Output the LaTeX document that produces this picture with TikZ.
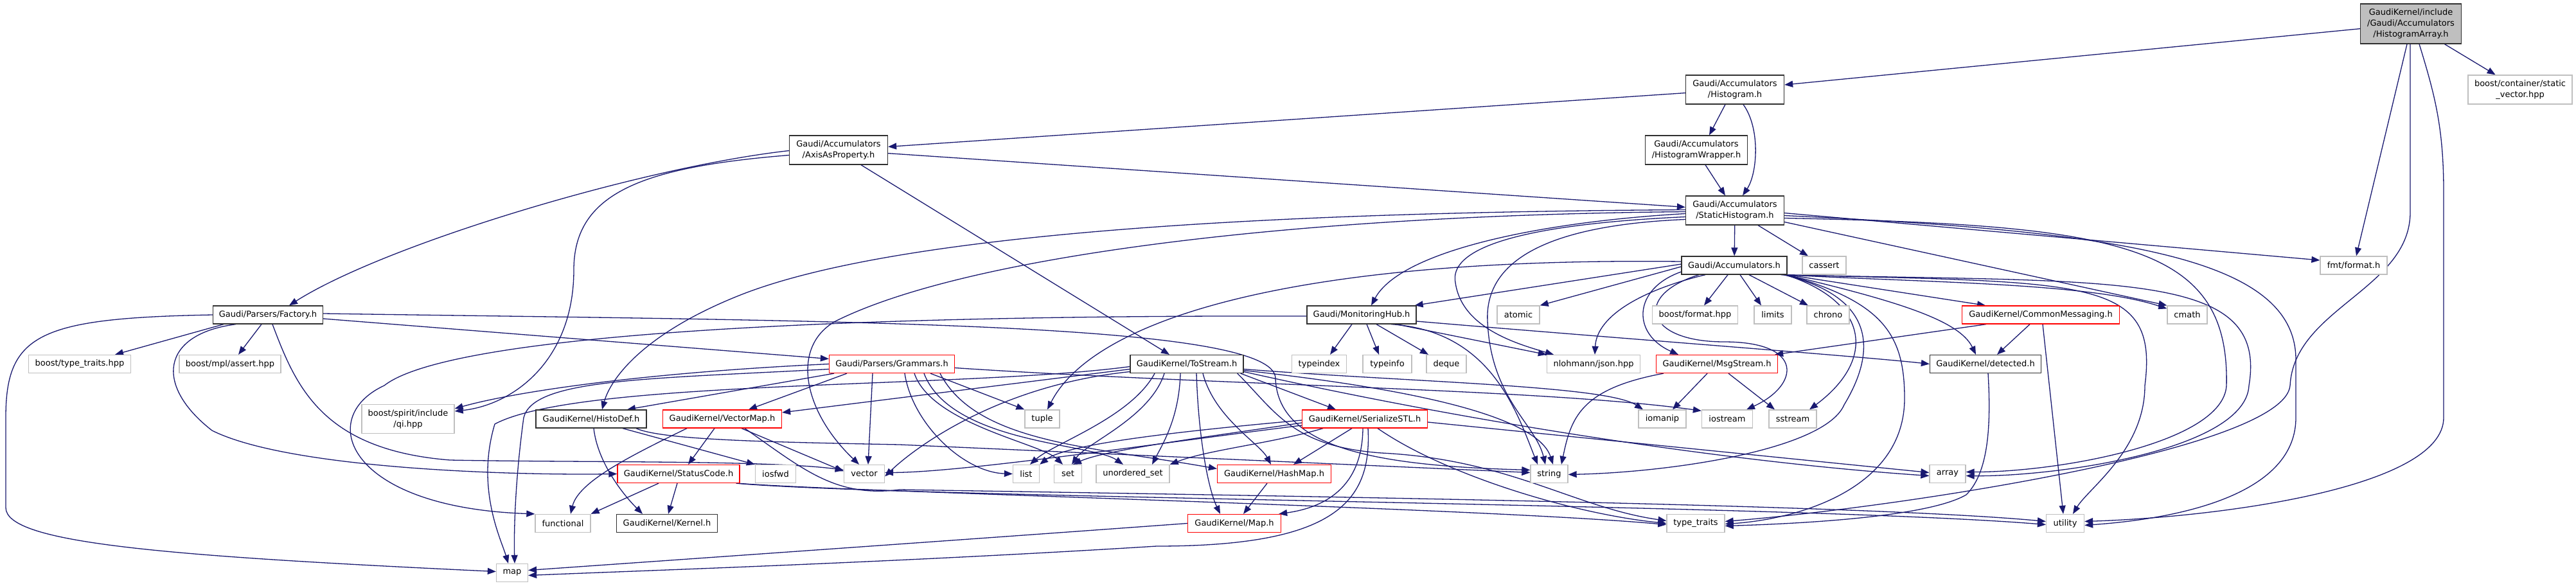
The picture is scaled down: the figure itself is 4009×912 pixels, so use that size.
\documentclass[tikz,border=0pt]{standalone}
\usepackage{fontspec}
\setmainfont{DejaVu Sans}
\usetikzlibrary{arrows.meta}
\pgfdeclarelayer{bg}
\pgfdeclarelayer{back}
\pgfsetlayers{back,bg,main}
\definecolor{edgec}{HTML}{191970}
\definecolor{nodeb}{HTML}{303030}
\definecolor{sysb}{HTML}{BFBFBF}
\definecolor{mainf}{HTML}{BFBFBF}
\definecolor{redb}{HTML}{FF0000}
\begin{document}
\begin{tikzpicture}[x=1pt,y=-1pt,
  font=\fontsize{13}{17}\selectfont,
  nb/.style={draw=nodeb, fill=white, line width=1.3pt, rectangle, inner sep=0pt, minimum height=28pt, align=center},
  ns/.style={nb, draw=sysb},
  nr/.style={nb, draw=redb},
  e/.style={draw=edgec, line width=1.3pt, -{Triangle[length=13pt,width=10pt]}}]
\begin{pgfonlayer}{back}
\fill[white] (0,0) rectangle (4009,912);
\end{pgfonlayer}
\useasboundingbox (0,0) rectangle (4009,912);

% nodes
\node[nb, fill=mainf, minimum width=157pt, minimum height=62pt] (HA) at (3752,37) {GaudiKernel/include\\/Gaudi/Accumulators\\/HistogramArray.h};
\node[nb, minimum width=153pt, minimum height=45pt] (H) at (2700,139.5) {Gaudi/Accumulators\\/Histogram.h};
\node[ns, minimum width=162pt, minimum height=45pt] (SV) at (3922,139.5) {boost/container/static\\\_vector.hpp};
\node[nb, minimum width=153pt, minimum height=45pt] (AP) at (1305,233.5) {Gaudi/Accumulators\\/AxisAsProperty.h};
\node[nb, minimum width=159pt, minimum height=45pt] (HW) at (2640,233.5) {Gaudi/Accumulators\\/HistogramWrapper.h};
\node[nb, minimum width=153pt, minimum height=45pt] (SH) at (2700,327.5) {Gaudi/Accumulators\\/StaticHistogram.h};
\node[nb, minimum width=164pt] (ACC) at (2699,413) {Gaudi/Accumulators.h};
\node[ns, minimum width=68pt] (cassert) at (2839,413) {cassert};
\node[ns, minimum width=104pt] (fmt) at (3663,413) {fmt/format.h};
\node[nb, minimum width=171pt] (Factory) at (417,490) {Gaudi/Parsers/Factory.h};
\node[nb, minimum width=170pt] (MH) at (2119,490) {Gaudi/MonitoringHub.h};
\node[ns, minimum width=66pt] (atomic) at (2363,490) {atomic};
\node[ns, minimum width=133pt] (bformat) at (2638,490) {boost/format.hpp};
\node[ns, minimum width=58pt] (limits) at (2759,490) {limits};
\node[ns, minimum width=66pt] (chrono) at (2845,490) {chrono};
\node[nr, minimum width=245pt] (CM) at (3176,490) {GaudiKernel/CommonMessaging.h};
\node[ns, minimum width=62pt] (cmath) at (3404,490) {cmath};
\node[ns, minimum width=159pt] (btt) at (124,566.5) {boost/type\_traits.hpp};
\node[ns, minimum width=158pt] (bmpl) at (358,566.5) {boost/mpl/assert.hpp};
\node[nr, minimum width=195pt] (Gram) at (1388,566.5) {Gaudi/Parsers/Grammars.h};
\node[nb, minimum width=176pt] (TS) at (1847,566.5) {GaudiKernel/ToStream.h};
\node[ns, minimum width=85pt] (typeindex) at (2053,566.5) {typeindex};
\node[ns, minimum width=76pt] (typeinfo) at (2159,566.5) {typeinfo};
\node[ns, minimum width=62pt] (deque) at (2251,566.5) {deque};
\node[ns, minimum width=145pt] (json) at (2480,566.5) {nlohmann/json.hpp};
\node[nr, minimum width=189pt] (MS) at (2672,566.5) {GaudiKernel/MsgStream.h};
\node[nb, minimum width=173pt] (det) at (3090,566.5) {GaudiKernel/detected.h};
\node[ns, minimum width=144pt, minimum height=45pt] (qi) at (635,652) {boost/spirit/include\\/qi.hpp};
\node[nb, minimum width=172pt] (HD) at (920,652) {GaudiKernel/HistoDef.h};
\node[nr, minimum width=185pt] (VM) at (1124,652) {GaudiKernel/VectorMap.h};
\node[ns, minimum width=54pt] (tuple) at (1622,652) {tuple};
\node[nr, minimum width=195pt] (SS) at (2124,652) {GaudiKernel/SerializeSTL.h};
\node[ns, minimum width=74pt] (iomanip) at (2587,652) {iomanip};
\node[ns, minimum width=79pt] (iostream) at (2688,652) {iostream};
\node[ns, minimum width=74pt] (sstream) at (2790,652) {sstream};
\node[nr, minimum width=190pt] (SC) at (1056,737.5) {GaudiKernel/StatusCode.h};
\node[ns, minimum width=63pt] (iosfwd) at (1207,737.5) {iosfwd};
\node[ns, minimum width=63pt] (vector) at (1345,737.5) {vector};
\node[ns, minimum width=41pt] (list) at (1597,737.5) {list};
\node[ns, minimum width=43pt] (set) at (1662,737.5) {set};
\node[ns, minimum width=114pt] (uset) at (1763,737.5) {unordered\_set};
\node[nr, minimum width=177pt] (HM) at (1983,737.5) {GaudiKernel/HashMap.h};
\node[ns, minimum width=58pt] (string) at (2411,737.5) {string};
\node[ns, minimum width=56pt] (array) at (3031,737.5) {array};
\node[ns, minimum width=86pt] (func) at (876,814.5) {functional};
\node[nb, minimum width=157pt] (Kern) at (1038,814.5) {GaudiKernel/Kernel.h};
\node[nr, minimum width=145pt] (MapH) at (1921,814.5) {GaudiKernel/Map.h};
\node[ns, minimum width=90pt] (tt) at (2639,814.5) {type\_traits};
\node[ns, minimum width=59pt] (util) at (3214,814.5) {utility};
\node[ns, minimum width=49pt] (map) at (797,891.5) {map};

\begin{pgfonlayer}{bg}
% HistogramArray
\draw[e] (HA) -- (H);
\draw[e] (HA) -- (SV);
\draw[e] ([xshift=-6pt]HA.south) -- ([xshift=4pt]fmt.north);
\draw[e] ([xshift=-1pt]HA.south) -- (3751,330) .. controls (3751,450) and (3570,480) .. (3564,600) .. controls (3555,700) and (2950,790) .. ([yshift=3pt]tt.east);
\draw[e] ([xshift=13pt]HA.south) .. controls (3790,150) and (3803,200) .. (3803,300) -- (3803,650) .. controls (3803,760) and (3450,805) .. ([yshift=3pt]util.east);
% Histogram
\draw[e] (H) -- (AP);
\draw[e] ([xshift=-15pt]H.south) -- ([xshift=20pt]HW.north);
\draw[e] ([xshift=13pt]H.south) .. controls (2740,200) and (2735,270) .. ([xshift=12pt]SH.north);
\draw[e] ([xshift=14pt]HW.south) -- ([xshift=-15pt]SH.north);
% AxisAsProperty
\draw[e] (AP) -- (SH);
\draw[e] ([yshift=-1pt]AP.west) .. controls (1000,260) and (600,380) .. ([xshift=33pt]Factory.north);
\draw[e] ([yshift=-8pt]AP.west) .. controls (1000,260) and (893,300) .. (893,420) .. controls (893,560) and (800,630) .. ([yshift=12pt]qi.east);
\draw[e] ([xshift=35pt]AP.south) -- ([xshift=-27pt]TS.north);
% StaticHistogram
\draw[e] (SH) -- (ACC);
\draw[e] ([xshift=36pt]SH.south) -- ([xshift=-25pt]cassert.north);
\draw[e] ([yshift=-4pt]SH.east) -- ([yshift=8pt]fmt.west);
\draw[e] ([yshift=-18pt]SH.east) -- (cmath.north west);
\draw[e] ([yshift=-5pt]SH.west) .. controls (2400,345) and (2180,390) .. ([xshift=15pt]MH.north);
\draw[e] ([yshift=1pt]SH.west) .. controls (2000,330) and (1400,360) .. (1150,460) .. controls (1000,520) and (950,590) .. ([xshift=17pt]HD.north);
\draw[e] ([yshift=-2pt]SH.west) .. controls (2000,335) and (1500,400) .. (1300,500) .. controls (1230,540) and (1250,640) .. ([xshift=-8pt]vector.north);
\draw[e] ([yshift=-10pt]SH.west) .. controls (2350,350) and (2255,390) .. (2265,440) .. controls (2275,510) and (2360,535) .. ([xshift=-62pt]json.north);
\draw[e] ([yshift=-14pt]SH.west) .. controls (2420,350) and (2310,400) .. (2315,500) .. controls (2320,620) and (2390,660) .. ([xshift=-6pt]string.north);
\draw[e] ([yshift=-12pt]SH.east) .. controls (3300,350) and (3470,380) .. (3465,600) .. controls (3460,690) and (3200,735) .. ([yshift=3pt]array.east);
\draw[e] ([yshift=-8pt]SH.east) .. controls (3300,360) and (3573,400) .. (3573,560) -- (3573,650) .. controls (3573,760) and (3420,805) .. ([yshift=-3pt]util.east);
% Accumulators
\draw[e] ([yshift=2pt]ACC.west) -- ([xshift=-3pt]MH.north east);
\draw[e] ([yshift=-2pt]ACC.west) -- (atomic.north east);
\draw[e] ([xshift=-10pt]ACC.south) -- ([xshift=14pt]bformat.north);
\draw[e] ([xshift=9pt]ACC.south) -- ([xshift=-18pt]limits.north);
\draw[e] ([xshift=23pt]ACC.south) -- ([xshift=-31pt]chrono.north);
\draw[e] (ACC.south east) -- ([xshift=-86pt]CM.north);
\draw[e] ([xshift=-4pt]ACC.south east) .. controls (3000,440) and (3250,440) .. ([yshift=-5pt]cmath.north west);
\draw[e] ([xshift=-2pt]ACC.south east) .. controls (2960,470) and (3050,500) .. ([xshift=-15pt]det.north);
\draw[e] ([yshift=-10pt]ACC.west) .. controls (2540,450) and (2540,520) .. ([xshift=-60pt]MS.north);
\draw[e] ([xshift=-45pt]ACC.south) .. controls (2560,450) and (2485,490) .. ([xshift=2pt]json.north);
\draw[e] ([yshift=6pt]ACC.west) .. controls (2000,400) and (1700,500) .. ([xshift=8pt]tuple.north);
\draw[e] ([xshift=-55pt]ACC.south) .. controls (2540,460) and (2560,532) .. (2683,532) .. controls (2810,532) and (2800,600) .. ([xshift=30pt]iostream.north);
\draw[e] ([xshift=-3pt]ACC.south east) .. controls (2910,470) and (2920,560) .. ([xshift=26pt]sstream.north);
\draw[e] ([xshift=-6pt]ACC.south east) .. controls (2950,470) and (2900,580) .. (2870,630) .. controls (2840,700) and (2600,735) .. ([yshift=-1pt]string.east);
\draw[e] ([xshift=-1pt]ACC.south east) .. controls (2930,470) and (2964,520) .. (2964,620) .. controls (2964,760) and (2800,808) .. ([yshift=-1pt]tt.east);
\draw[e] ([xshift=-8pt]ACC.south east) .. controls (3250,440) and (3360,430) .. (3338,600) .. controls (3338,700) and (3250,760) .. ([xshift=12pt]util.north);
\draw[e] ([xshift=-10pt]ACC.south east) .. controls (3300,440) and (3530,420) .. (3500,600) .. controls (3495,700) and (3200,742) .. ([yshift=-3pt]array.east);
% Factory
\draw[e] ([xshift=-69pt]Factory.south) -- ([xshift=55pt]btt.north);
\draw[e] ([xshift=-10pt]Factory.south) -- ([xshift=13pt]bmpl.north);
\draw[e] ([yshift=-6pt]Factory.east) -- ([yshift=8pt]Gram.west);
\draw[e] ([xshift=-50pt]Factory.south) .. controls (250,520) and (240,600) .. (330,670) .. controls (450,730) and (800,740) .. (SC.west);
\draw[e] ([xshift=7pt]Factory.south) .. controls (460,600) and (500,700) .. (700,716) .. controls (900,720) and (1200,716) .. ([yshift=6pt]vector.west);
\draw[e] (Factory.west) .. controls (60,495) and (9,520) .. (9,650) -- (9,790) .. controls (9,845) and (250,865) .. ([yshift=2pt]map.west);
\draw[e] ([yshift=2pt]Factory.east) .. controls (1300,500) and (1990,500) .. (1985,590) .. controls (1990,700) and (2150,725) .. ([yshift=6pt]string.west);
% MonitoringHub
\draw[e] ([xshift=-15pt]MH.south) -- ([xshift=17pt]typeindex.north);
\draw[e] ([xshift=8pt]MH.south) -- ([xshift=-13pt]typeinfo.north);
\draw[e] ([xshift=23pt]MH.south) -- ([xshift=-28pt]deque.north);
\draw[e] ([xshift=54pt]MH.south) -- (json.north west);
\draw[e] ([xshift=46pt]MH.south) .. controls (2320,515) and (2360,640) .. ([xshift=-18pt]string.north);
\draw[e] ([yshift=-10pt]MH.east) .. controls (2500,525) and (2900,555) .. (det.west);
\draw[e] ([yshift=-2pt]MH.west) .. controls (1300,490) and (700,520) .. (598,600) .. controls (490,650) and (540,790) .. (func.north west);
% CommonMessaging
\draw[e] ([xshift=-85pt]CM.south) -- ([xshift=-5pt]MS.north east);
\draw[e] ([xshift=-17pt]CM.south) -- ([xshift=18pt]det.north);
\draw[e] ([xshift=3pt]CM.south) -- ([xshift=-3pt]util.north);
% detected
\draw[e] ([xshift=4pt]det.south) .. controls (3100,680) and (3090,740) .. (3060,770) .. controls (3000,805) and (2800,815) .. ([yshift=-4pt]tt.east);
% Grammars
\draw[e] (Gram.west) .. controls (1000,580) and (800,610) .. ([yshift=16pt]qi.east);
\draw[e] ([xshift=-90pt]Gram.south) -- ([xshift=56pt]HD.north);
\draw[e] ([xshift=-70pt]Gram.south) -- ([xshift=41pt]VM.north);
\draw[e] ([xshift=-30pt]Gram.south) -- ([xshift=6pt]vector.north);
\draw[e] ([xshift=60pt]Gram.south) -- (tuple.north west);
\draw[e] ([yshift=-8pt]Gram.west) .. controls (1000,590) and (830,590) .. (815,650) .. controls (800,760) and (800,840) .. ([xshift=4pt]map.north);
\draw[e] ([xshift=20pt]Gram.south) .. controls (1420,660) and (1500,735) .. (list.west);
\draw[e] ([xshift=35pt]Gram.south) .. controls (1450,660) and (1620,690) .. ([xshift=-8pt]set.north);
\draw[e] ([xshift=50pt]Gram.south) .. controls (1480,690) and (1700,690) .. ([xshift=-15pt]uset.north);
\draw[e] ([xshift=75pt]Gram.south) .. controls (1520,690) and (1700,695) .. ([yshift=8pt]HM.west);
\draw[e] ([yshift=-6pt]Gram.east) .. controls (1900,600) and (2400,605) .. ([yshift=-2pt]iostream.north west);
% ToStream
\draw[e] ([xshift=-5pt]TS.south east) -- ([xshift=-45pt]SS.north);
\draw[e] ([yshift=-8pt]TS.west) -- ([yshift=10pt]VM.east);
\draw[e] ([xshift=25pt]TS.south) .. controls (1890,650) and (1960,690) .. ([xshift=-5pt]HM.north);
\draw[e] ([xshift=15pt]TS.south) .. controls (1865,680) and (1880,760) .. ([xshift=-22pt]MapH.north);
\draw[e] ([xshift=-50pt]TS.south) .. controls (1760,650) and (1640,690) .. ([xshift=6pt]list.north);
\draw[e] ([xshift=-35pt]TS.south) .. controls (1790,650) and (1690,690) .. ([xshift=6pt]set.north);
\draw[e] ([xshift=-10pt]TS.south) .. controls (1835,650) and (1810,690) .. ([xshift=30pt]uset.north);
\draw[e] ([yshift=-12pt]TS.west) .. controls (1550,600) and (1420,700) .. ([yshift=-4pt]vector.east);
\draw[e] ([yshift=-4pt]TS.west) .. controls (1500,605) and (900,590) .. (770,660) .. controls (740,760) and (780,840) .. ([xshift=-6pt]map.north);
\draw[e] ([yshift=-10pt]TS.east) .. controls (2150,600) and (2390,640) .. ([xshift=6pt]string.north);
\draw[e] ([yshift=-8pt]TS.east) .. controls (2200,595) and (2500,600) .. ([xshift=-30pt]iomanip.north);
\draw[e] ([yshift=-12pt]TS.east) .. controls (2300,660) and (2700,720) .. ([yshift=-3pt]array.west);
\draw[e] ([xshift=-10pt]TS.south east) .. controls (1985,640) and (2010,695) .. (2150,705) .. controls (2350,715) and (2450,790) .. ([yshift=4pt]tt.west);
% MsgStream
\draw[e] ([xshift=-15pt]MS.south) -- ([xshift=16pt]iomanip.north);
\draw[e] ([xshift=18pt]MS.south) -- ([xshift=-28pt]sstream.north);
\draw[e] ([xshift=12pt]MS.south west) .. controls (2460,605) and (2445,650) .. ([xshift=19pt]string.north);
% HistoDef
\draw[e] ([xshift=4pt]HD.south) .. controls (930,720) and (970,770) .. ([xshift=-38pt]Kern.north);
\draw[e] ([xshift=49pt]HD.south) -- (iosfwd.north west);
\draw[e] ([xshift=70pt]HD.south) .. controls (1030,685) and (1200,688) .. (1400,692) -- ([yshift=2pt]string.west);
% VectorMap
\draw[e] ([xshift=-55pt]VM.south) .. controls (980,710) and (900,750) .. ([xshift=12pt]func.north);
\draw[e] ([xshift=-12pt]VM.south) -- ([xshift=15pt]SC.north);
\draw[e] ([xshift=30pt]VM.south) -- ([yshift=4pt]vector.west);
\draw[e] ([xshift=35pt]VM.south) .. controls (1250,730) and (1300,775) .. (1400,762) .. controls (2000,772) and (2900,785) .. ([yshift=3pt]util.west);
% SerializeSTL
\draw[e] ([xshift=-20pt]SS.south) -- ([xshift=30pt]HM.north);
\draw[e] ([xshift=-3pt]SS.south) .. controls (2120,760) and (2060,790) .. ([xshift=-4pt]MapH.north east);
\draw[e] ([xshift=5pt]SS.south) .. controls (2135,780) and (2080,850) .. (1800,850) .. controls (1400,875) and (1000,888) .. ([yshift=-4pt]map.east);
\draw[e] ([yshift=-5pt]SS.east) -- ([yshift=2pt]array.west);
\draw[e] ([yshift=-2pt]SS.west) .. controls (1850,670) and (1660,690) .. (list.north east);
\draw[e] ([yshift=-6pt]SS.west) .. controls (1880,680) and (1720,700) .. ([xshift=8pt]set.north);
\draw[e] ([xshift=-65pt]SS.south) .. controls (1980,690) and (1880,700) .. (uset.north east);
\draw[e] ([yshift=-10pt]SS.west) .. controls (1800,690) and (1500,735) .. ([yshift=2pt]vector.east);
\draw[e] ([xshift=20pt]SS.south) .. controls (2250,740) and (2450,800) .. (tt.west);
% StatusCode
\draw[e] ([xshift=-31pt]SC.south) -- (func.north east);
\draw[e] ([xshift=-2pt]SC.south) -- ([xshift=2pt]Kern.north);
\draw[e] ([xshift=-3pt]SC.south east) .. controls (1300,765) and (2300,790) .. ([yshift=-2pt]tt.west);
\draw[e] ([xshift=-6pt]SC.south east) .. controls (1400,775) and (2800,785) .. ([yshift=-2pt]util.west);
% HashMap, Map
\draw[e] ([xshift=-11pt]HM.south) -- ([xshift=14pt]MapH.north);
\draw[e] (MapH.west) .. controls (1500,840) and (1000,875) .. ([yshift=4pt]map.east);
\end{pgfonlayer}
\end{tikzpicture}
\end{document}
